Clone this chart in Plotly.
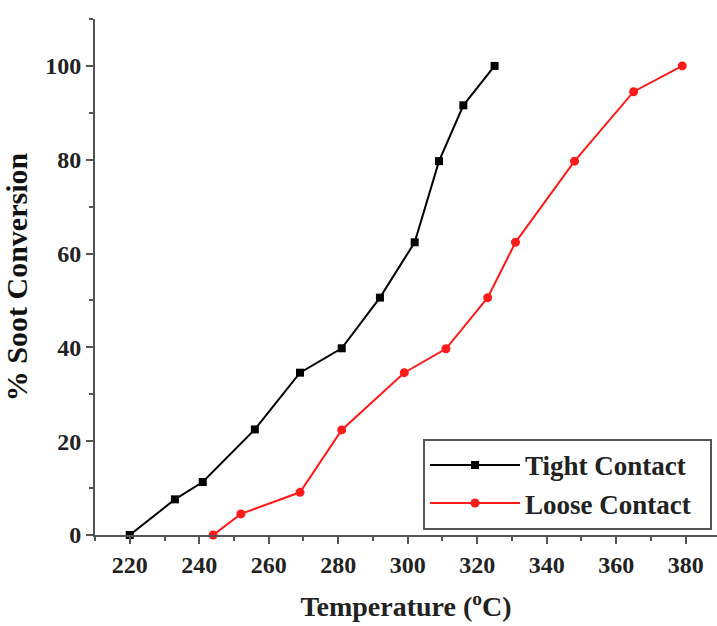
import plotly.graph_objects as go

# Soot conversion vs temperature for two catalyst/soot contact modes
tight_temp = [220, 233, 241, 256, 269, 281, 292, 302, 309, 316, 325]
tight_conv = [0, 7.6, 11.3, 22.5, 34.6, 39.8, 50.6, 62.4, 79.7, 91.6, 100]

loose_temp = [244, 252, 269, 281, 299, 311, 323, 331, 348, 365, 379]
loose_conv = [0, 4.5, 9.1, 22.4, 34.6, 39.7, 50.6, 62.4, 79.7, 94.5, 100]

x_ticks = [220, 240, 260, 280, 300, 320, 340, 360, 380]
y_ticks = [0, 20, 40, 60, 80, 100]

FONT = "Liberation Serif, Times New Roman, serif"

fig = go.Figure()
fig.add_trace(go.Scatter(
    x=tight_temp, y=tight_conv, mode="lines+markers",
    name="<b>Tight Contact</b>&nbsp;&nbsp;",
    line=dict(color="black", width=2),
    marker=dict(symbol="square", size=8, color="black"),
    cliponaxis=False,
))
fig.add_trace(go.Scatter(
    x=loose_temp, y=loose_conv, mode="lines+markers",
    name="<b>Loose Contact</b>&nbsp;&nbsp;",
    line=dict(color="#ff1a1a", width=2),
    marker=dict(symbol="circle", size=9, color="#ff1a1a"),
    cliponaxis=False,
))

axis_common = dict(
    showline=True, linecolor="#555555", linewidth=2,
    ticks="outside", ticklen=7, tickwidth=1.5, tickcolor="#555555",
    showgrid=False, zeroline=False,
    tickfont=dict(family=FONT, size=24, color="#222222"),
)

fig.update_xaxes(
    range=[210, 389], tickvals=x_ticks,
    ticktext=[f"<b>{v}</b>" for v in x_ticks],
    minor=dict(ticks="outside", dtick=10, tick0=210, ticklen=4, tickcolor="#555555"),
    title=dict(text="<b>Temperature (<sup>o</sup>C)</b>",
               font=dict(family=FONT, size=28, color="#222222"), standoff=20),
    **axis_common,
)
fig.update_yaxes(
    range=[0, 110], tickvals=y_ticks,
    ticktext=[f"<b>{v}</b>" for v in y_ticks],
    minor=dict(ticks="outside", dtick=10, tick0=0, ticklen=4, tickcolor="#555555"),
    title=dict(text="<b>% Soot Conversion</b>",
               font=dict(family=FONT, size=30, color="#111111"), standoff=10),
    **axis_common,
)

fig.update_layout(
    width=717, height=626,
    margin=dict(l=95, r=0, t=19, b=91),
    paper_bgcolor="white", plot_bgcolor="white",
    showlegend=True,
    legend=dict(
        x=0.992, y=0.01, xanchor="right", yanchor="bottom",
        bgcolor="white", bordercolor="#555555", borderwidth=2,
        font=dict(family=FONT, size=27, color="#222222"),
        itemwidth=90, tracegroupgap=0,
    ),
)

fig.write_html("out.html")
